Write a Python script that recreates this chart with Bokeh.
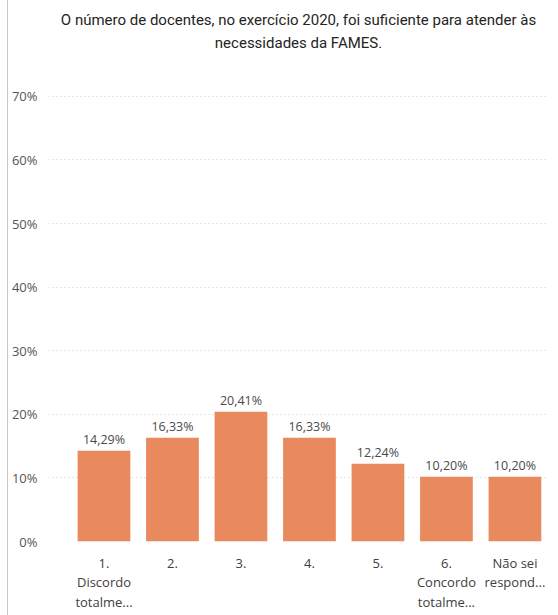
from bokeh.plotting import figure
from bokeh.models import Range1d, FixedTicker, PrintfTickFormatter, ColumnDataSource, Title
from bokeh.core.properties import value
from bokeh.embed import file_html
from bokeh.resources import INLINE

categories = ["1.\nDiscordo\ntotalme...", "2.", "3.", "4.", "5.", "6.\nConcordo\ntotalme...", "Não sei\nrespond..."]
values = [14.29, 16.33, 20.41, 16.33, 12.24, 10.20, 10.20]
y_ticks = [0, 10, 20, 30, 40, 50, 60, 70]
title_lines = ["O número de docentes, no exercício 2020, foi suficiente para atender às",
               "necessidades da FAMES."]

xs = list(range(len(categories)))
labels = [f"{v:.2f}".replace(".", ",") + "%" for v in values]
src = ColumnDataSource(dict(x=xs, top=values, label=labels))

p = figure(width=550, height=615, output_backend="svg", toolbar_location=None,
           x_range=Range1d(-0.81, 6.49), y_range=Range1d(0, 70.3),
           min_border_left=37, min_border_right=10, min_border_top=0, min_border_bottom=74)
p.styles = {"margin-left": "7px", "border-left": "1px solid #c8c8c8"}
p.outline_line_color = None
p.title = None

title_kw = dict(align="center", vertical_align="middle", text_font="Roboto",
                text_font_size="15px", text_font_style="normal", text_color="#252423")
# stacked from the frame upwards: spacer, line 2, line 1
p.add_layout(Title(text=" ", standoff=28, **title_kw), "above")
p.add_layout(Title(text=title_lines[1], standoff=-12, **title_kw), "above")
p.add_layout(Title(text=title_lines[0], standoff=18, **title_kw), "above")

p.vbar(x="x", top="top", width=0.77, source=src, color="#E9895E", line_color=None)
p.text(x="x", y="top", text="label", source=src, text_align="center", text_baseline="bottom",
       y_offset=-3, text_font=value("Open Sans"), text_font_size="12.5px", text_color="#4a4a4a")

p.xgrid.grid_line_color = None
p.ygrid.grid_line_color = "#cfcfcf"
p.ygrid.grid_line_dash = "1 3"
p.ygrid.ticker = FixedTicker(ticks=y_ticks)

p.yaxis.ticker = FixedTicker(ticks=y_ticks)
p.yaxis.formatter = PrintfTickFormatter(format="%d%%")
p.yaxis.axis_line_color = None
p.yaxis.major_tick_line_color = None
p.yaxis.minor_tick_line_color = None
p.yaxis.major_label_text_font = "Open Sans"
p.yaxis.major_label_text_font_size = "13px"
p.yaxis.major_label_text_color = "#555555"
p.yaxis.major_label_standoff = 5

p.xaxis.ticker = FixedTicker(ticks=xs)
p.xaxis.major_label_overrides = {i: c for i, c in enumerate(categories)}
p.xaxis.axis_line_color = None
p.xaxis.major_tick_line_color = None
p.xaxis.minor_tick_line_color = None
p.xaxis.major_label_text_font = "Open Sans"
p.xaxis.major_label_text_font_size = "13px"
p.xaxis.major_label_text_color = "#404040"
p.xaxis.major_label_text_line_height = 1.1
p.xaxis.major_label_standoff = 6

open("out.html", "w").write(file_html(p, INLINE))
